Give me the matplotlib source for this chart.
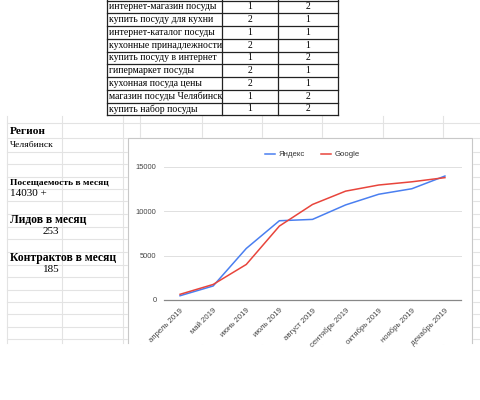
import matplotlib.pyplot as plt

# данные таблицы ключевых запросов
keywords = ['интернет-магазин посуды', 'купить посуду для кухни', 'интернет-каталог посуды',
            'кухонные принадлежности', 'купить посуду в интернет', 'гипермаркет посуды',
            'кухонная посуда цены', 'магазин посуды Челябинск', 'купить набор посуды']
col_a = [1, 2, 1, 2, 1, 2, 2, 1, 1]
col_b = [2, 1, 1, 1, 2, 1, 1, 2, 2]

# данные графика
months = ['апрель 2019', 'май 2019', 'июнь 2019', 'июль 2019', 'август 2019',
          'сентябрь 2019', 'октябрь 2019', 'ноябрь 2019', 'декабрь 2019']
yandex = [480, 1580, 5800, 8920, 9070, 10700, 11900, 12520, 13950]
google = [640, 1750, 4000, 8320, 10750, 12250, 12940, 13300, 13770]

fig = plt.figure(figsize=(4.8, 4.0), dpi=100)
bg = fig.add_axes([0, 0, 1, 1])
bg.set_xlim(0, 480)
bg.set_ylim(400, 0)
bg.axis('off')

# сетка листа
grid_x = [7, 62, 123, 140, 202, 262, 322, 383, 443]
grid_y = [123, 138, 152, 164, 177, 189, 201, 214, 227, 239, 252, 265, 277, 290, 302, 314, 327, 339]
for gx in grid_x:
    bg.plot([gx, gx], [116, 343], color='#e3e3e3', lw=0.8)
for gy in grid_y:
    bg.plot([7, 480], [gy, gy], color='#e3e3e3', lw=0.8)

# таблица сверху
cols = [107, 222, 278, 338]
row_h = 12.75
top = 0.5
for i in range(len(keywords) + 1):
    bg.plot([cols[0], cols[-1]], [top + i * row_h, top + i * row_h], color='#222222', lw=0.9)
for cx in cols:
    bg.plot([cx, cx], [0, top + len(keywords) * row_h], color='#222222', lw=0.9)
for i, kw in enumerate(keywords):
    yc = top + (i + 0.5) * row_h
    bg.text(cols[0] + 2, yc, kw, family='Liberation Serif', fontsize=7, va='center')
    bg.text((cols[1] + cols[2]) / 2, yc, str(col_a[i]), family='Liberation Serif', fontsize=7, va='center', ha='center')
    bg.text((cols[2] + cols[3]) / 2, yc, str(col_b[i]), family='Liberation Serif', fontsize=7, va='center', ha='center')

# подписи слева
labels_left = [('Регион', 131, 'bold', 8.2, 10), ('Челябинск', 145, 'normal', 6.8, 10),
               ('Посещаемость в месяц', 182, 'bold', 6.8, 10), ('14030 +', 194, 'normal', 8, 10),
               ('Лидов в месяц', 220, 'bold', 8.4, 10), ('253', 232, 'normal', 8, 43),
               ('Контрактов в месяц', 258, 'bold', 8.4, 10), ('185', 270, 'normal', 8, 43)]
for txt, yy, w, fs, xx in labels_left:
    bg.text(xx, yy, txt, family='Liberation Serif', fontweight=w, fontsize=fs, va='center')

# рамка диаграммы (низ обрезан скриншотом)
bg.fill_between([128, 472], 138, 343, color='white', zorder=3)
bg.plot([128, 128, 472, 472], [343, 138, 138, 343], color='#c8c8c8', lw=0.8, zorder=3)

ax = fig.add_axes([163.5 / 480, 100 / 400, 298 / 480, 133.3 / 400])
ax.patch.set_alpha(0)
ax.plot(range(len(months)), yandex, color='#4a7ff0', lw=1.1, label='Яндекс', clip_on=False, zorder=3)
ax.plot(range(len(months)), google, color='#e8453c', lw=1.1, label='Google', clip_on=False, zorder=4)
ax.set_xlim(-0.5, 8.5)
ax.set_ylim(0, 15000)
ax.set_yticks([0, 5000, 10000, 15000])
ax.set_yticklabels(['0', '5000', '10000', '15000'], family='Liberation Sans', fontsize=5.4, color='#444444')
ax.set_xticks(range(len(months)))
ax.set_xticklabels(months, rotation=45, ha='right', rotation_mode='anchor',
                   family='Liberation Sans', fontsize=5.6, color='#444444')
ax.tick_params(length=0, pad=5)
ax.grid(axis='y', color='#e0e0e0', lw=0.7)
for s in ['top', 'right', 'left']:
    ax.spines[s].set_visible(False)
ax.spines['bottom'].set_color('#888888')
ax.spines['bottom'].set_linewidth(0.9)
ax.legend(loc='upper center', bbox_to_anchor=(0.5, 1.17), ncol=2, frameon=False,
          prop={'family': 'Liberation Sans', 'size': 5.6}, handlelength=1.3, columnspacing=2,
          handletextpad=0.5, labelcolor='#333333')

plt.savefig('out.png', dpi=100)
